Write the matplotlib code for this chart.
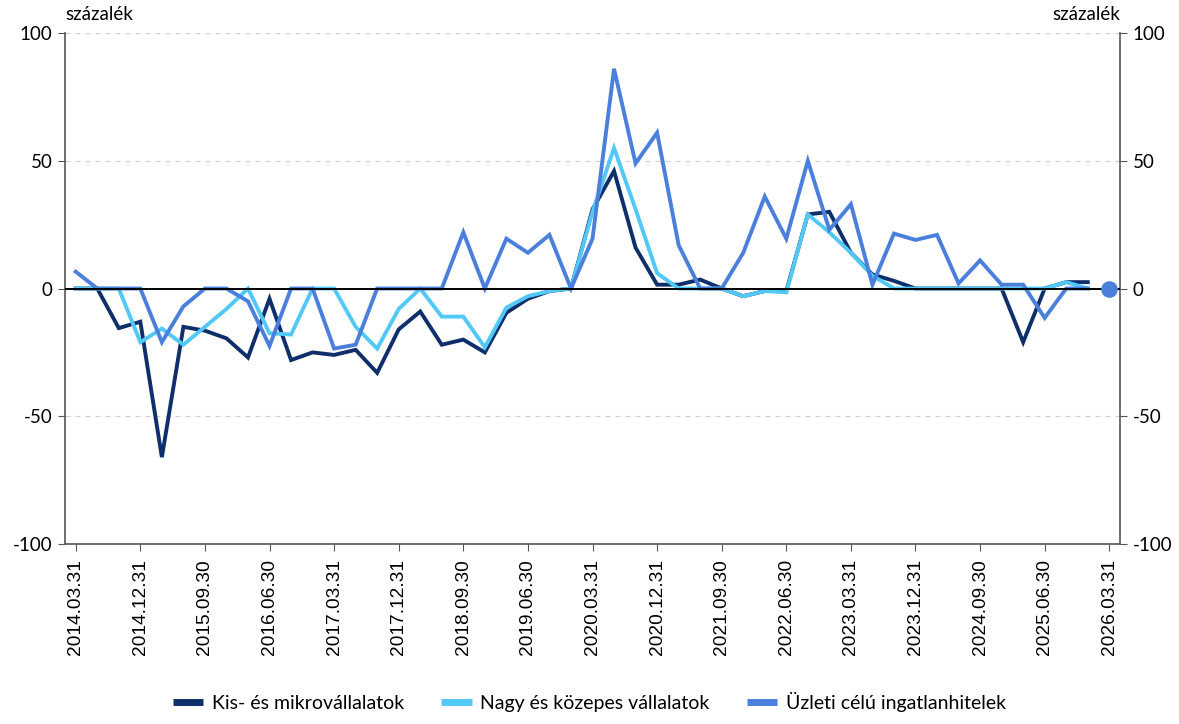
import matplotlib
matplotlib.use("Agg")
import matplotlib.pyplot as plt
from matplotlib.lines import Line2D
import numpy as np

dates = []
for y in range(2014, 2027):
    for md in ["03.31", "06.30", "09.30", "12.31"]:
        dates.append(f"{y}.{md}")
dates = dates[:49]  # 2014.03.31 .. 2026.03.31

kis = [0, 0, -15.5, -13, -66, -15, -16.5, -19.5, -27, -4,
       -28, -25, -26, -24, -33, -16, -9, -22, -20, -25,
       -9.5, -4, -1, 0, 31, 46, 16, 1.5, 1.5, 3.5,
       0, -3, -1, -1, 29, 30, 14, 5.5, 3, 0,
       0, 0, 0, 0, -21, 0, 2.5, 2.5]
nagy = [0, 0, 0, -21, -15.7, -22, -15, -8, 0, -17.5,
        -18, 0, 0, -15, -23.5, -8, 0, -11, -11, -23,
        -7.5, -3, -1, 0, 30, 55, 31, 6, 0, 0,
        0, -3, -1, -1.5, 29, 22, 14, 5, 0, 0,
        0, 0, 0, 0, 0, 0, 2.5, 0]
uzleti = [6.6, 0, 0, 0, -21, -7, 0, 0, -5, -22.5,
          0, 0, -23.5, -22, 0, 0, 0, 0, 22, 0,
          19.5, 14, 21, 0, 19.5, 86, 49, 61, 17, 0,
          0, 14, 36, 19.5, 50, 23, 33, 1.5, 21.5, 19,
          21, 2, 11, 1.5, 1.5, -11.5, 0, 0]
dot_value = 0

names = ["Kis- és mikrovállalatok", "Nagy és közepes vállalatok", "Üzleti célú ingatlanhitelek"]
colors = ["#0f2f6b", "#52c8f7", "#4a80dc"]
yticks = [-100, -50, 0, 50, 100]

plt.rcParams['font.family'] = ['Lato', 'DejaVu Sans']

fig = plt.figure(figsize=(11.79, 7.24), dpi=100)
ax = fig.add_axes([0.0551, 0.2486, 0.8949, 0.7058])

x = np.arange(len(dates))
for vals, c, n in zip([kis, nagy, uzleti], colors, names):
    ax.plot(x[:len(vals)], vals, color=c, lw=2.8, label=n, zorder=3, solid_joinstyle='miter')
ax.scatter([x[48]], [dot_value], s=120, color=colors[2], zorder=5)

ax.axhline(0, color='black', lw=1.4, zorder=4)
for yv in [50, 100, -50]:
    ax.axhline(yv, color='#d0d0d0', lw=0.9, ls=(0, (4, 4)), zorder=1)

ax.set_xlim(-0.5, 48.5)
ax.set_ylim(-100, 100)
ax.set_yticks(yticks)
ax.set_yticklabels([str(v) for v in yticks], fontsize=13.5)
ax.tick_params(axis='y', which='both', direction='out', length=5, color='#555555',
               right=True, labelright=True, pad=4)
tick_idx = list(range(0, 49, 3))
ax.set_xticks(tick_idx)
ax.set_xticklabels([dates[i] for i in tick_idx], rotation=90, fontsize=13.8,
                   family=['Liberation Sans', 'DejaVu Sans'])
ax.tick_params(axis='x', direction='out', length=5, color='#555555', pad=6)

ax.spines['top'].set_visible(False)
for s in ['left', 'right', 'bottom']:
    ax.spines[s].set_color('#555555')
    ax.spines[s].set_linewidth(1.2)

fig.text(0.0551, 0.968, "százalék", fontsize=13.5, ha='left', va='bottom')
fig.text(0.950, 0.968, "százalék", fontsize=13.5, ha='right', va='bottom')

handles = [Line2D([0], [0], color=c, lw=5, solid_capstyle='butt') for c in colors]
fig.legend(handles, names, loc='lower center', bbox_to_anchor=(0.5, -0.008), ncol=3,
           frameon=False, fontsize=14, handlelength=1.55, columnspacing=1.9, handletextpad=0.45)

fig.savefig("out.png", dpi=100)
